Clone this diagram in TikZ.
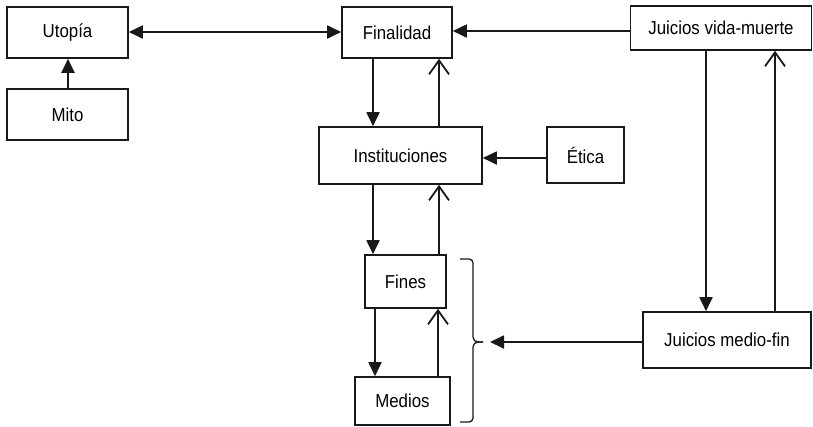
\documentclass[tikz,border=0pt]{standalone}
\usepackage{fontspec}
\setmainfont[FakeStretch=0.9]{Liberation Sans}
\usetikzlibrary{arrows.meta}
\begin{document}
\begin{tikzpicture}[x=1bp,y=-1bp,
  box/.style={draw=black!90, line width=1.6bp, rectangle, inner sep=0pt, align=center,
    font=\fontsize{18.8}{22}\selectfont},
  fa/.style={line width=1.8bp, draw=black!90, -{Triangle[length=14bp,width=13bp]}},
  fab/.style={line width=1.8bp, draw=black!90, {Triangle[length=14bp,width=13bp]}-{Triangle[length=14bp,width=13bp]}},
  oa/.style={line width=2bp, draw=black!90, -{Straight Barb[length=14bp,width=20bp,line width=1.8bp]}}]
\useasboundingbox (0,0) rectangle (813,426);
\node[box, minimum width=121bp, minimum height=51bp] (uto) at (67.5,32.5) {Utopía};
\node[box, minimum width=121bp, minimum height=51bp] (mito) at (67.5,114.5) {Mito};
\node[box, minimum width=110bp, minimum height=51bp] (fin) at (397,32.5) {Finalidad};
\node[box, minimum width=181bp, minimum height=44bp] (jvm) at (721,28) {Juicios vida-muerte};
\node[box, minimum width=163bp, minimum height=57bp] (inst) at (400.5,155.5) {Instituciones};
\node[box, minimum width=77bp, minimum height=56bp] (etica) at (585.5,155) {Ética};
\node[box, minimum width=81bp, minimum height=53bp] (fines) at (405.5,281.5) {Fines};
\node[box, minimum width=95bp, minimum height=48bp] (medios) at (402.5,401) {Medios};
\node[box, minimum width=168bp, minimum height=56bp] (jmf) at (727,340) {Juicios medio-fin};
\coordinate (xa) at (373,0);
\coordinate (xb) at (439,0);
\coordinate (xc) at (375,0);
\coordinate (xd) at (438,0);
\coordinate (xe) at (706,0);
\coordinate (xf) at (775,0);
\coordinate (xm) at (68,0);
\coordinate (ya) at (0,32);
\coordinate (tip) at (490,342);
% arrows
\draw[fab] (uto.east |- ya) -- (fin.west |- ya);
\draw[fa, line width=2bp] (mito.north -| xm) -- (uto.south -| xm);
\draw[fa] (jvm.west |- 0,31) -- (fin.east |- 0,31);
\draw[fa] (fin.south -| xa) -- (inst.north -| xa);
\draw[oa] (inst.north -| xb) -- (fin.south -| xb);
\draw[fa] (etica.west |- 0,158) -- (inst.east |- 0,158);
\draw[fa] (inst.south -| xa) -- (fines.north -| xa);
\draw[oa] (fines.north -| xb) -- (inst.south -| xb);
\draw[fa] (fines.south -| xc) -- (medios.north -| xc);
\draw[oa] (medios.north -| xd) -- (fines.south -| xd);
\draw[fa] (jvm.south -| xe) -- (jmf.north -| xe);
\draw[oa] (jmf.north -| xf) -- (jvm.south -| xf);
\draw[fa] (jmf.west |- tip) -- (tip);
% brace
\draw[line width=1.3bp, draw=black!90, line join=round]
  (460,259) -- (469,259) arc[start angle=90, end angle=0, radius=4bp] -- (473,337)
  arc[start angle=180, end angle=270, radius=5bp] -- (483,342);
\draw[line width=1.3bp, draw=black!90]
  (483,342) -- (478,342) arc[start angle=90, end angle=180, radius=5bp] -- (473,418)
  arc[start angle=0, end angle=-90, radius=4bp] -- (460,422);
\end{tikzpicture}
\end{document}
